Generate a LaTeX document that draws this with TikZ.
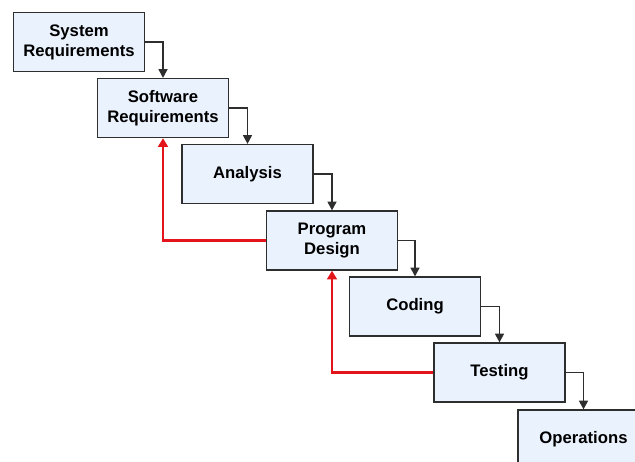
\documentclass[tikz,border=0pt]{standalone}
\usepackage{fontspec}
\setmainfont{Liberation Sans}
\usetikzlibrary{arrows.meta}
\definecolor{boxfill}{HTML}{EAF2FD}
\definecolor{boxline}{HTML}{2E2E2E}
\definecolor{backred}{HTML}{E3151B}
\begin{document}
\begin{tikzpicture}[x = 0.02cm, y = -0.02cm,
    stage/.style = {draw = boxline, line width = 0.75pt, fill = boxfill, minimum width = 2.62cm, minimum height = 1.18cm, align = center, font = \fontsize{9.5}{11.4}\selectfont\bfseries, inner sep = 0pt},
    flow/.style = {draw = boxline, line width = 0.7pt, -{Triangle[width = 5.2pt, length = 5pt]}},
    back/.style = {draw = backred, line width = 1.6pt, -{Triangle[width = 5.6pt, length = 5pt]}}]
                \useasboundingbox (0, 0) rectangle (635, 461);
                \clip (0, 0) rectangle (635, 461);
                \node[stage] (sysreq) at (79, 42) {System\\Requirements};
                \node[stage] (swreq) at (163, 108) {Software\\Requirements};
                \node[stage] (analysis) at (247.5, 174) {Analysis};
                \node[stage] (design) at (332, 240.5) {Program\\Design};
                \node[stage] (coding) at (415, 306.5) {Coding};
                \node[stage] (testing) at (499.5, 372.5) {Testing};
                \node[stage] (operations) at (583.5, 439.5) {Operations};
                \draw[flow] (sysreq.east) -| (swreq.north);
                \draw[flow] (swreq.east) -| (analysis.north);
                \draw[flow] (analysis.east) -| (design.north);
                \draw[flow] (design.east) -| (coding.north);
                \draw[flow] (coding.east) -| (testing.north);
                \draw[flow] (testing.east) -| (operations.north);
                \draw[back] (design.west) -| (swreq.south);
                \draw[back] (testing.west) -| (design.south);
            \end{tikzpicture}
\end{document}
